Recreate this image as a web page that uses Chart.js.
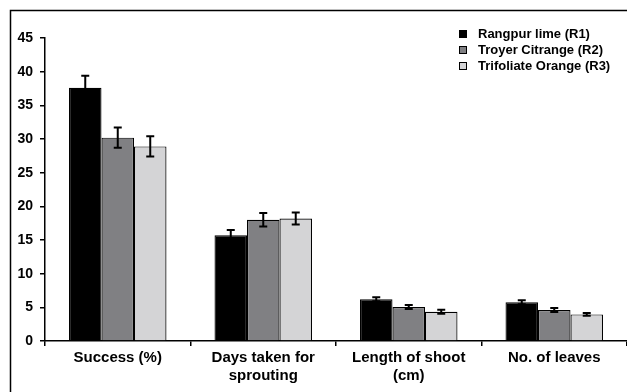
<!DOCTYPE html>
<html>
<head>
<meta charset="utf-8">
<script src="https://cdn.jsdelivr.net/npm/chart.js@4.4.1/dist/chart.umd.min.js"></script>
<style>
  html, body { margin: 0; padding: 0; background: #fff; }
  #wrap { width: 627px; height: 392px; position: relative; }
</style>
</head>
<body>
<div id="wrap"><canvas id="chart"></canvas></div>
<script>
// --- DATA ---
const categories = ['Success (%)', ['Days taken for', 'sprouting'], ['Length of shoot', '(cm)'], 'No. of leaves'];
const seriesNames = ['Rangpur lime (R1)', 'Troyer Citrange (R2)', 'Trifoliate Orange (R3)'];
const rangpurValues = [37.6, 15.7, 6.2, 5.75];
const troyerValues = [30.2, 18.0, 5.05, 4.6];
const trifoliateValues = [28.9, 18.2, 4.35, 3.95];
const rangpurErrors = [1.8, 0.8, 0.3, 0.3];
const troyerErrors = [1.5, 1.0, 0.3, 0.3];
const trifoliateErrors = [1.5, 0.9, 0.3, 0.2];
const yTicks = [0, 5, 10, 15, 20, 25, 30, 35, 40, 45];

const fillColors = ['#000000', '#808083', '#d4d4d6'];
const FONT = 'Arial, "Liberation Sans", sans-serif';

// error bars drawn from the bar elements + y scale
const errorBarPlugin = {
    id: 'errorBars',
    afterDatasetsDraw(chart) {
        const ctx = chart.ctx;
        const y = chart.scales.y;
        chart.data.datasets.forEach((ds, i) => {
            const meta = chart.getDatasetMeta(i);
            meta.data.forEach((bar, j) => {
                const v = ds.data[j];
                const e = ds.errors[j];
                const top = y.getPixelForValue(v + e);
                const bot = y.getPixelForValue(v - e);
                ctx.save();
                ctx.strokeStyle = '#000';
                ctx.lineWidth = 2;
                ctx.beginPath();
                ctx.moveTo(bar.x, top);
                ctx.lineTo(bar.x, bot);
                ctx.moveTo(bar.x - 4, top);
                ctx.lineTo(bar.x + 4, top);
                ctx.moveTo(bar.x - 4, bot);
                ctx.lineTo(bar.x + 4, bot);
                ctx.stroke();
                ctx.restore();
            });
        });
    }
};

// outer frame and legend inside the plot
const framePlugin = {
    id: 'frame',
    afterDraw(chart) {
        const ctx = chart.ctx;
        ctx.save();
        ctx.strokeStyle = '#000';
        ctx.lineWidth = 1.5;
        ctx.strokeRect(10.5, 10.5, 640, 400);

        ctx.font = 'bold 13px ' + FONT;
        ctx.textBaseline = 'middle';
        const rows = [34, 50, 66];
        chart.data.datasets.forEach((ds, i) => {
            ctx.fillStyle = ds.backgroundColor;
            ctx.fillRect(459, rows[i] - 4, 8, 8);
            ctx.strokeStyle = '#000';
            ctx.lineWidth = 1;
            ctx.strokeRect(459.5, rows[i] - 3.5, 7, 7);
            ctx.fillStyle = '#000';
            ctx.fillText(ds.label, 478, rows[i]);
        });
        ctx.restore();
    }
};

const datasets = [rangpurValues, troyerValues, trifoliateValues].map((vals, i) => ({
    label: seriesNames[i],
    data: vals,
    errors: [rangpurErrors, troyerErrors, trifoliateErrors][i],
    backgroundColor: fillColors[i],
    borderColor: '#000',
    borderWidth: 1.2,
    categoryPercentage: 0.67,
    barPercentage: 1.0
}));

new Chart(document.getElementById('chart'), {
    type: 'bar',
    data: { labels: categories, datasets },
    options: {
        responsive: true,
        maintainAspectRatio: false,
        animation: false,
        layout: { padding: { top: 38, right: 0, left: 0, bottom: 0 } },
        plugins: {
            legend: { display: false },
            tooltip: { enabled: false }
        },
        scales: {
            x: {
                grid: { display: true, drawOnChartArea: false, drawTicks: true, tickLength: 5, color: '#000', lineWidth: 1.5, offset: true },
                border: { display: true, color: '#000', width: 1.5 },
                ticks: { color: '#000', font: { family: FONT, size: 15, weight: 'bold', lineHeight: 1.2 }, padding: 3, maxRotation: 0 },
                afterFit(s) { s.height = 51; }
            },
            y: {
                min: 0,
                max: 45,
                afterBuildTicks(s) { s.ticks = yTicks.map(v => ({ value: v })); },
                grid: { display: true, drawOnChartArea: false, drawTicks: true, tickLength: 5, color: '#000', lineWidth: 1.5 },
                border: { display: true, color: '#000', width: 1.5 },
                ticks: { color: '#000', font: { family: FONT, size: 14, weight: 'bold' }, padding: 7 },
                afterFit(s) { s.width = 45; }
            }
        }
    },
    plugins: [errorBarPlugin, framePlugin]
});
</script>
</body>
</html>
